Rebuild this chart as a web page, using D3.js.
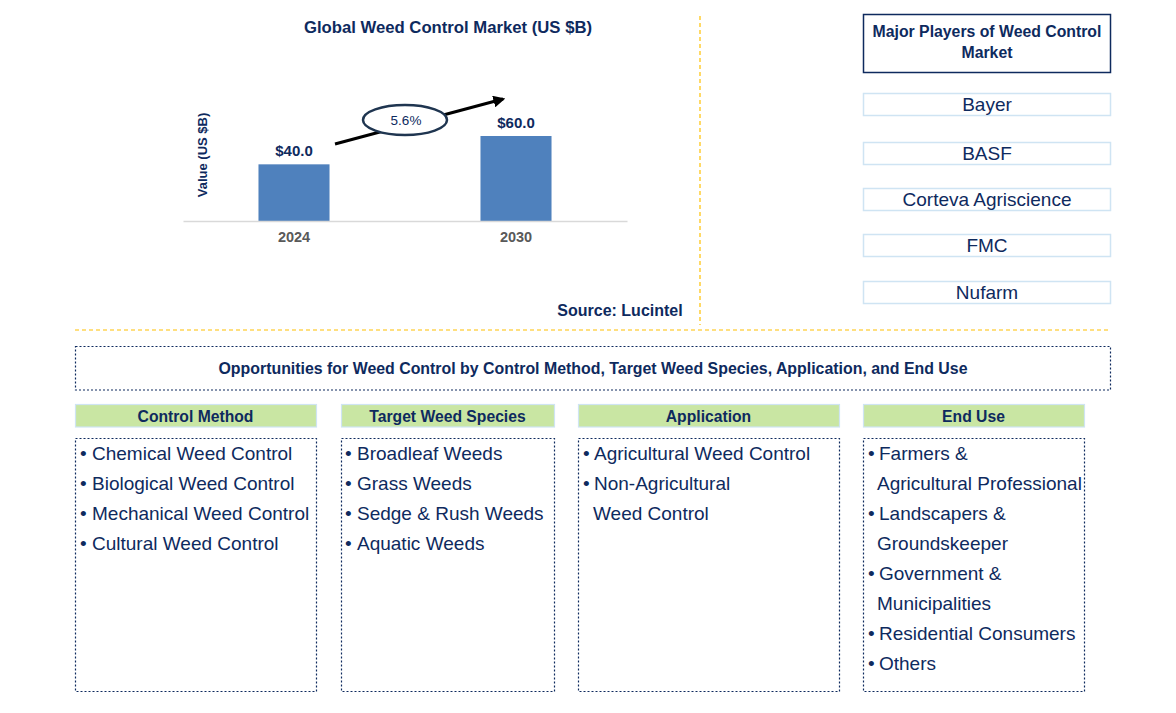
<!DOCTYPE html>
<html><head><meta charset="utf-8">
<script src="https://cdn.jsdelivr.net/npm/d3@7"></script>
<style>body{margin:0;background:#fff}svg{display:block}</style>
</head><body>
<svg id="c" width="1176" height="713"></svg>
<script>
const years = ["2024", "2030"];
const values = [40.0, 60.0];
const cagr = "5.6%";
const chartTitle = "Global Weed Control Market (US $B)";
const yLabel = "Value (US $B)";
const source = "Source: Lucintel";
const playersTitle = ["Major Players of Weed Control", "Market"];
const players = ["Bayer", "BASF", "Corteva Agriscience", "FMC", "Nufarm"];
const oppTitle = "Opportunities for Weed Control by Control Method, Target Weed Species, Application, and End Use";
const segTitles = ["Control Method", "Target Weed Species", "Application", "End Use"];
const controlMethod = [["Chemical Weed Control"], ["Biological Weed Control"], ["Mechanical Weed Control"], ["Cultural Weed Control"]];
const targetSpecies = [["Broadleaf Weeds"], ["Grass Weeds"], ["Sedge & Rush Weeds"], ["Aquatic Weeds"]];
const application = [["Agricultural Weed Control"], ["Non-Agricultural", "Weed Control"]];
const endUse = [["Farmers &", "Agricultural Professional"], ["Landscapers &", "Groundskeeper"], ["Government &", "Municipalities"], ["Residential Consumers"], ["Others"]];
const segItems = [controlMethod, targetSpecies, application, endUse];

const NAVY = "#0e2a5e";
const FONT = "'Liberation Sans', Arial, sans-serif";
const ITEM = 19;
const svg = d3.select("#c").style("font-family", FONT);

// ---- bar chart ----
const x = d3.scaleBand().domain(years).range([183, 627]).paddingInner(0.68).paddingOuter(0.34);
const y = d3.scaleLinear().domain([0, 60]).range([221, 136]);

svg.append("text").attr("x", 448).attr("y", 33).attr("text-anchor", "middle")
  .attr("font-size", 16.7).attr("font-weight", "bold").attr("fill", NAVY).text(chartTitle);

svg.append("text").attr("transform", "translate(207,155) rotate(-90)").attr("text-anchor", "middle")
  .attr("font-size", 13).attr("font-weight", "bold").attr("fill", NAVY).text(yLabel);

svg.selectAll("rect.bar").data(values).join("rect").attr("class", "bar")
  .attr("x", (d, i) => x(years[i])).attr("width", x.bandwidth())
  .attr("y", d => y(d)).attr("height", d => y(0) - y(d)).attr("fill", "#4f81bd");

const xAxis = svg.append("g").attr("transform", `translate(0,${y(0)})`).call(d3.axisBottom(x).tickSize(0).tickPadding(11));
xAxis.select(".domain").attr("stroke", "#d9d9d9").attr("stroke-width", 1.5);
xAxis.selectAll("text").attr("font-family", FONT).attr("font-size", 14.5).attr("font-weight", "bold").attr("fill", "#595959");

svg.selectAll("text.val").data(values).join("text").attr("class", "val")
  .attr("x", (d, i) => x(years[i]) + x.bandwidth() / 2).attr("y", d => y(d) - 8)
  .attr("text-anchor", "middle").attr("font-size", 15).attr("font-weight", "bold").attr("fill", NAVY)
  .text(d => "$" + d.toFixed(1));

// CAGR arrow
const defs = svg.append("defs");
defs.append("marker").attr("id", "ah").attr("viewBox", "0 0 10 10").attr("refX", 8).attr("refY", 5)
  .attr("markerWidth", 4).attr("markerHeight", 4).attr("orient", "auto")
  .append("path").attr("d", "M0,0L10,5L0,10z").attr("fill", "#000");
svg.append("line").attr("x1", 335).attr("y1", 144).attr("x2", 503).attr("y2", 99)
  .attr("stroke", "#000").attr("stroke-width", 3).attr("marker-end", "url(#ah)");
svg.append("ellipse").attr("cx", 405).attr("cy", 120).attr("rx", 42).attr("ry", 15)
  .attr("fill", "#fff").attr("stroke", "#1f3550").attr("stroke-width", 2.5);
svg.append("text").attr("x", 406).attr("y", 125).attr("text-anchor", "middle")
  .attr("font-size", 13.5).attr("fill", NAVY).text(cagr);

svg.append("text").attr("x", 620).attr("y", 316).attr("text-anchor", "middle")
  .attr("font-size", 16).attr("font-weight", "bold").attr("fill", NAVY).text(source);

// separators
svg.append("line").attr("x1", 700).attr("y1", 16).attr("x2", 700).attr("y2", 325)
  .attr("stroke", "#ffc000").attr("stroke-width", 1.2).attr("stroke-dasharray", "4,3");
svg.append("line").attr("x1", 75).attr("y1", 330).attr("x2", 1111).attr("y2", 330)
  .attr("stroke", "#ffc000").attr("stroke-width", 1.2).attr("stroke-dasharray", "4,3");

// ---- players ----
svg.append("rect").attr("x", 863.5).attr("y", 14.5).attr("width", 247).attr("height", 58)
  .attr("fill", "#fff").attr("stroke", NAVY).attr("stroke-width", 1.5);
svg.selectAll("text.pt").data(playersTitle).join("text").attr("class", "pt")
  .attr("x", 987).attr("y", (d, i) => 37 + i * 21).attr("text-anchor", "middle")
  .attr("font-size", 15.8).attr("font-weight", "bold").attr("fill", NAVY).text(d => d);
const pTops = [93, 142, 188, 234, 281];
const pg = svg.selectAll("g.pl").data(players).join("g").attr("class", "pl");
pg.append("rect").attr("x", 863.5).attr("y", (d, i) => pTops[i] + 0.5).attr("width", 247).attr("height", 22)
  .attr("fill", "#fff").attr("stroke", "#cfe4f3").attr("stroke-width", 1.5);
pg.append("text").attr("x", 987).attr("y", (d, i) => pTops[i] + 18).attr("text-anchor", "middle")
  .attr("font-size", ITEM).attr("fill", NAVY).text(d => d);

// ---- opportunities ----
svg.append("rect").attr("x", 75.5).attr("y", 346.5).attr("width", 1035).attr("height", 43.5)
  .attr("fill", "none").attr("stroke", NAVY).attr("stroke-width", 1.2).attr("stroke-dasharray", "2,2");
svg.append("text").attr("x", 593).attr("y", 373.5).attr("text-anchor", "middle")
  .attr("font-size", 15.9).attr("font-weight", "bold").attr("fill", NAVY).text(oppTitle);

const cols = [
  {x0: 75, x1: 316, bx: 80, tx: 92, cx: 92},
  {x0: 341, x1: 554, bx: 345, tx: 357, cx: 357},
  {x0: 578, x1: 839, bx: 583, tx: 594, cx: 593},
  {x0: 863, x1: 1084, bx: 868, tx: 879, cx: 877}
];
cols.forEach((c, k) => {
  svg.append("rect").attr("x", c.x0 + 0.5).attr("y", 404.5).attr("width", c.x1 - c.x0).attr("height", 22.5)
    .attr("fill", "#c9e6a3").attr("stroke", "#cfe4f3").attr("stroke-width", 1.2);
  svg.append("text").attr("x", (c.x0 + c.x1) / 2).attr("y", 421.5).attr("text-anchor", "middle")
    .attr("font-size", 15.7).attr("font-weight", "bold").attr("fill", NAVY).text(segTitles[k]);
  svg.append("rect").attr("x", c.x0 + 0.5).attr("y", 438.5).attr("width", c.x1 - c.x0).attr("height", 253)
    .attr("fill", "none").attr("stroke", NAVY).attr("stroke-width", 1.2).attr("stroke-dasharray", "2,2");
  let row = 0;
  segItems[k].forEach(item => {
    item.forEach((line, j) => {
      const yy = 459.5 + row * 30;
      if (j === 0) {
        svg.append("text").attr("x", c.bx).attr("y", yy).attr("font-size", ITEM).attr("fill", NAVY).text("•");
        svg.append("text").attr("x", c.tx).attr("y", yy).attr("font-size", ITEM).attr("fill", NAVY).text(line);
      } else {
        svg.append("text").attr("x", c.cx).attr("y", yy).attr("font-size", ITEM).attr("fill", NAVY).text(line);
      }
      row++;
    });
  });
});
</script>
</body></html>
